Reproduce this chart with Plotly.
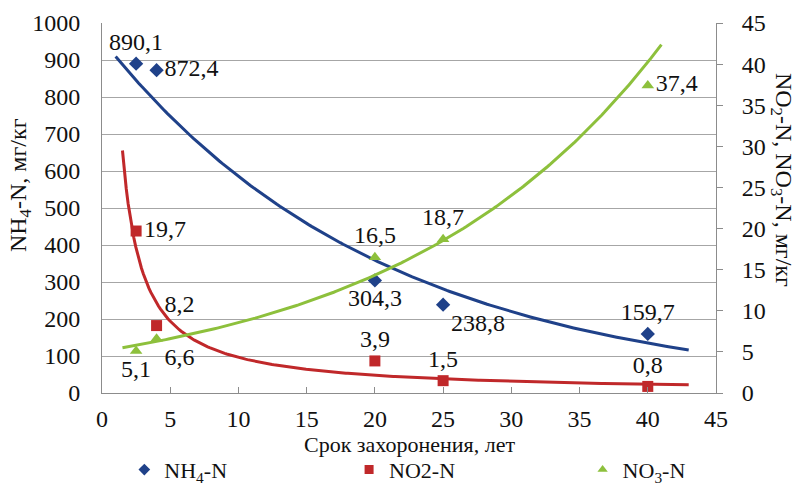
import numpy as np
import plotly.graph_objects as go

# ---- data ----
years = [2.5, 4, 20, 25, 40]
nh4 = [890.1, 872.4, 304.3, 238.8, 159.7]
no2 = [19.7, 8.2, 3.9, 1.5, 0.8]
no3 = [5.1, 6.6, 16.5, 18.7, 37.4]
x_ticks = [0, 5, 10, 15, 20, 25, 30, 35, 40, 45]
series_names = ["NH<sub>4</sub>-N", "NO2-N", "NO<sub>3</sub>-N"]

def fmt(v):
    return f"{v:.1f}".replace(".", ",")

FONT = "Liberation Serif"
BLUE = "#1F4189"
RED = "#C0282A"
GREEN = "#8DC03C"
FS = 24

# trendlines (least-squares fits, as Excel computes them)
xa = np.array(years)
b_nh4, a_nh4 = np.polyfit(xa, np.log(nh4), 1)
b_no3, a_no3 = np.polyfit(xa, np.log(no3), 1)
p_no2, c_no2 = np.polyfit(np.log(xa), np.log(no2), 1)

x_nh4 = np.linspace(1.0, 43.0, 200)
x_no2 = np.linspace(1.5, 43.0, 300)
x_no3 = np.linspace(1.5, 41.0, 200)

fig = go.Figure()
fig.add_trace(go.Scatter(x=x_nh4, y=np.exp(a_nh4 + b_nh4 * x_nh4), mode="lines",
                         line=dict(color=BLUE, width=3), showlegend=False, hoverinfo="skip"))
fig.add_trace(go.Scatter(x=x_no2, y=np.exp(c_no2) * x_no2 ** p_no2, mode="lines",
                         line=dict(color=RED, width=3), showlegend=False, yaxis="y2", hoverinfo="skip"))
fig.add_trace(go.Scatter(x=x_no3, y=np.exp(a_no3 + b_no3 * x_no3), mode="lines",
                         line=dict(color=GREEN, width=3), showlegend=False, yaxis="y2", hoverinfo="skip"))

lbl = dict(family=FONT, size=FS, color="#111")
fig.add_trace(go.Scatter(x=years, y=nh4, mode="markers+text", showlegend=False,
                         marker=dict(symbol="diamond", size=11, color=BLUE),
                         text=[fmt(v) for v in nh4],
                         textposition=["top center", "middle right", "bottom center", "bottom right", "top center"],
                         textfont=lbl))
fig.add_trace(go.Scatter(x=years, y=no2, mode="markers+text", yaxis="y2", showlegend=False,
                         marker=dict(symbol="square", size=11, color=RED),
                         text=[fmt(v) for v in no2],
                         textposition=["middle right", "top right", "top center", "top center", "top center"],
                         textfont=lbl))
fig.add_trace(go.Scatter(x=years, y=no3, mode="markers+text", yaxis="y2", showlegend=False,
                         marker=dict(symbol="triangle-up", size=11, color=GREEN),
                         text=[fmt(v) for v in no3],
                         textposition=["bottom center", "bottom right", "top center", "top center", "middle right"],
                         textfont=lbl))

# legend entries (small markers as in the reference)
for nm, sym, col, lg in zip(series_names, ["diamond", "square", "triangle-up"], [BLUE, RED, GREEN],
                            ["legend", "legend2", "legend3"]):
    fig.add_trace(go.Scatter(x=[None], y=[None], mode="markers", name=nm, legend=lg,
                             marker=dict(symbol=sym, size=9, color=col)))

leg_common = dict(orientation="h", xref="container", yref="container", y=0.051,
                  xanchor="left", yanchor="middle", font=dict(family=FONT, size=22),
                  bgcolor="rgba(0,0,0,0)")

fig.update_layout(
    width=797, height=495,
    margin=dict(l=102, r=81, t=23, b=102, autoexpand=False),
    paper_bgcolor="white", plot_bgcolor="white",
    font=dict(family=FONT, size=FS, color="#111"),
    xaxis=dict(range=[0, 45], tickvals=x_ticks, showgrid=False, zeroline=False,
               showline=True, linecolor="#8C8C8C", linewidth=1,
               ticks="inside", ticklen=6, tickcolor="#8C8C8C", ticklabelstandoff=4,
               tickfont=dict(family=FONT, size=FS), automargin=False),
    yaxis=dict(range=[0, 1000], dtick=100, showgrid=True, gridcolor="#A6A6A6", gridwidth=1,
               zeroline=False, showline=True, linecolor="#8C8C8C", linewidth=1, ticks="",
               ticklabelstandoff=16, tickfont=dict(family=FONT, size=FS), automargin=False),
    yaxis2=dict(range=[0, 45], dtick=5, overlaying="y", side="right", showgrid=False,
                zeroline=False, showline=True, linecolor="#8C8C8C", linewidth=1,
                ticks="outside", ticklen=6, tickcolor="#8C8C8C", ticklabelstandoff=14,
                tickfont=dict(family=FONT, size=FS), automargin=False),
    legend=dict(x=0.156, **leg_common),
    legend2=dict(x=0.438, **leg_common),
    legend3=dict(x=0.731, **leg_common),
    annotations=[
        dict(text="Срок захоронения, лет", xref="paper", yref="paper", x=0.5, y=-0.138,
             xanchor="center", yanchor="middle", showarrow=False, font=dict(family=FONT, size=22)),
        dict(text="NH<sub>4</sub>-N, мг/кг", xref="paper", yref="paper", x=0, y=0.562,
             xanchor="center", yanchor="middle", textangle=-90, showarrow=False,
             xshift=-82, font=dict(family=FONT, size=FS)),
        dict(text="NO<sub>2</sub>-N, NO<sub>3</sub>-N, мг/кг", xref="paper", yref="paper", x=1.0, y=0.576,
             xanchor="center", yanchor="middle", textangle=90, showarrow=False,
             xshift=66, font=dict(family=FONT, size=FS)),
    ],
)

fig.write_html("out.html", config={"displayModeBar": False},
               post_script="document.body.style.margin='0';")
